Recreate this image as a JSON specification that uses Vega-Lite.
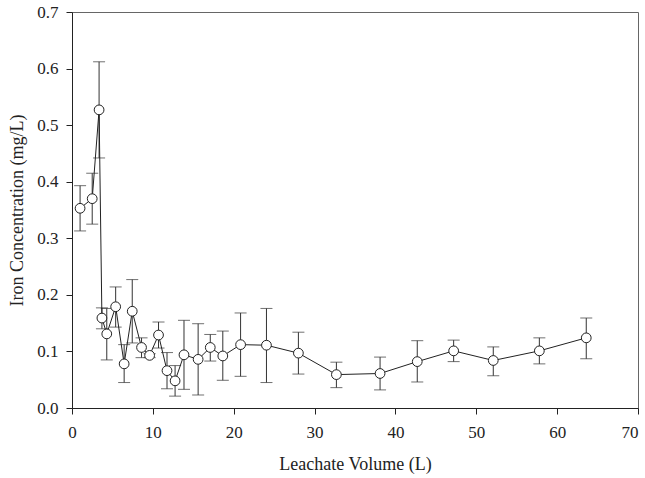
{
  "$schema": "https://vega.github.io/schema/vega-lite/v6.json",
  "width": 566,
  "height": 396,
  "autosize": {"type": "none"},
  "padding": {"left": 72, "top": 12, "right": 7, "bottom": 70},
  "background": "white",
  "config": {
    "view": {"stroke": "#666", "strokeWidth": 1},
    "font": "Liberation Serif",
    "axis": {
      "grid": false,
      "domainColor": "#222",
      "tickColor": "#222",
      "tickSize": 6,
      "labelFont": "Liberation Serif",
      "labelFontSize": 17,
      "labelColor": "#222",
      "titleFont": "Liberation Serif",
      "titleFontSize": 18,
      "titleFontWeight": "normal",
      "titleColor": "#222"
    }
  },
  "data": {
    "values": [
      {"vol": 1.0, "fe": 0.353, "lo": 0.313, "hi": 0.393},
      {"vol": 2.5, "fe": 0.370, "lo": 0.325, "hi": 0.415},
      {"vol": 3.35, "fe": 0.527, "lo": 0.442, "hi": 0.612},
      {"vol": 3.7, "fe": 0.159, "lo": 0.140, "hi": 0.177},
      {"vol": 4.3, "fe": 0.131, "lo": 0.085, "hi": 0.176},
      {"vol": 5.4, "fe": 0.179, "lo": 0.143, "hi": 0.214},
      {"vol": 6.45, "fe": 0.078, "lo": 0.045, "hi": 0.112},
      {"vol": 7.45, "fe": 0.171, "lo": 0.115, "hi": 0.227},
      {"vol": 8.6, "fe": 0.107, "lo": 0.089, "hi": 0.124},
      {"vol": 9.6, "fe": 0.093, "lo": 0.089, "hi": 0.096},
      {"vol": 10.7, "fe": 0.129, "lo": 0.106, "hi": 0.152},
      {"vol": 11.75, "fe": 0.066, "lo": 0.034, "hi": 0.098},
      {"vol": 12.75, "fe": 0.048, "lo": 0.021, "hi": 0.075},
      {"vol": 13.85, "fe": 0.094, "lo": 0.033, "hi": 0.155},
      {"vol": 15.6, "fe": 0.086, "lo": 0.023, "hi": 0.149},
      {"vol": 17.1, "fe": 0.107, "lo": 0.083, "hi": 0.130},
      {"vol": 18.65, "fe": 0.092, "lo": 0.049, "hi": 0.136},
      {"vol": 20.85, "fe": 0.112, "lo": 0.056, "hi": 0.168},
      {"vol": 24.05, "fe": 0.111, "lo": 0.045, "hi": 0.176},
      {"vol": 28.0, "fe": 0.097, "lo": 0.060, "hi": 0.134},
      {"vol": 32.7, "fe": 0.059, "lo": 0.036, "hi": 0.081},
      {"vol": 38.1, "fe": 0.061, "lo": 0.032, "hi": 0.090},
      {"vol": 42.7, "fe": 0.082, "lo": 0.046, "hi": 0.119},
      {"vol": 47.2, "fe": 0.101, "lo": 0.082, "hi": 0.120},
      {"vol": 52.1, "fe": 0.084, "lo": 0.057, "hi": 0.108},
      {"vol": 57.8, "fe": 0.101, "lo": 0.078, "hi": 0.124},
      {"vol": 63.6, "fe": 0.124, "lo": 0.087, "hi": 0.159}
    ]
  },
  "encoding": {
    "x": {
      "field": "vol",
      "type": "quantitative",
      "scale": {"domain": [0, 70], "nice": false, "zero": false},
      "axis": {
        "title": "Leachate Volume (L)",
        "values": [0, 10, 20, 30, 40, 50, 60, 70],
        "labelPadding": 10,
        "titlePadding": 15,
        "labelFlush": false,
        "labelOverlap": false,
        "labelAlign": {"expr": "datum.value == 70 ? 'right' : 'center'"},
        "labelDx": {"expr": "datum.value == 70 ? 7 : 0"}
      }
    }
  },
  "layer": [
    {
      "mark": {"type": "rule", "color": "#333", "strokeWidth": 1},
      "encoding": {
        "y": {"field": "lo", "type": "quantitative"},
        "y2": {"field": "hi"}
      }
    },
    {
      "mark": {"type": "tick", "orient": "horizontal", "color": "#333", "size": 12, "thickness": 1},
      "encoding": {"y": {"field": "lo", "type": "quantitative"}}
    },
    {
      "mark": {"type": "tick", "orient": "horizontal", "color": "#333", "size": 12, "thickness": 1},
      "encoding": {"y": {"field": "hi", "type": "quantitative"}}
    },
    {
      "mark": {"type": "line", "color": "#222", "strokeWidth": 1},
      "encoding": {
        "y": {"field": "fe", "type": "quantitative"}
      }
    },
    {
      "mark": {"type": "point", "shape": "circle", "filled": true, "fill": "white", "stroke": "#222", "strokeWidth": 1, "size": 95, "opacity": 1},
      "encoding": {
        "y": {
          "field": "fe",
          "type": "quantitative",
          "scale": {"domain": [0, 0.7], "nice": false},
          "axis": {
            "title": "Iron Concentration (mg/L)",
            "values": [0, 0.1, 0.2, 0.3, 0.4, 0.5, 0.6, 0.7],
            "format": ".1f",
            "labelPadding": 8,
            "titlePadding": 10,
            "labelFlush": false,
            "labelOverlap": false
          }
        }
      }
    }
  ]
}
